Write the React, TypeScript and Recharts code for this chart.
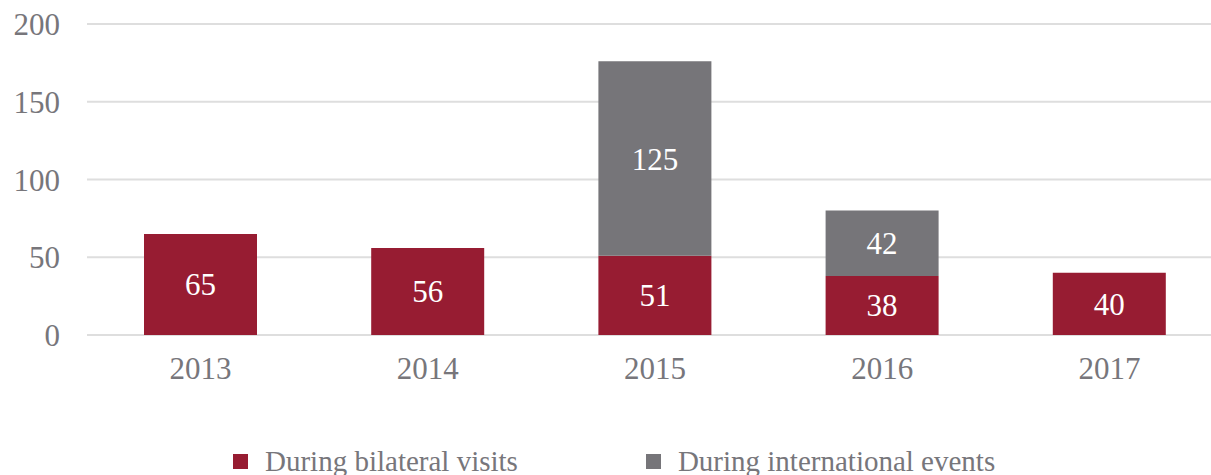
import React from 'react';
import { BarChart, Bar, XAxis, YAxis, CartesianGrid, LabelList, Legend } from 'recharts';

const years = ['2013', '2014', '2015', '2016', '2017'];
const bilateralVisits = [65, 56, 51, 38, 40];
const internationalEvents = [null, null, 125, 42, null];
const yTicks = [0, 50, 100, 150, 200];

const RED = '#971c32';
const GREY = '#767579';
const TEXT = '#77767b';
const FONT = '"Liberation Serif", "Times New Roman", serif';

const data = years.map((year, i) => ({
    year,
    bilateral: bilateralVisits[i],
    international: internationalEvents[i],
}));

const legendItems = [
    { name: 'During bilateral visits', color: RED },
    { name: 'During international events', color: GREY },
];

function ChartLegend() {
    return (
        <div style={{ display: 'flex', marginLeft: 233, marginTop: -4, gap: 128, fontFamily: FONT, fontSize: 29, color: TEXT, lineHeight: '36px' }}>
            {legendItems.map((item) => (
                <div key={item.name} style={{ display: 'flex', alignItems: 'center' }}>
                    <span style={{ width: 15, height: 15, background: item.color, marginRight: 17, display: 'inline-block' }} />
                    {item.name}
                </div>
            ))}
        </div>
    );
}

export default function App() {
    return (
        <div style={{ position: 'absolute', left: 0, top: 0, width: 1211, height: 475, overflow: 'hidden', background: '#fff' }}>
            <BarChart
                width={1226}
                height={475}
                data={data}
                margin={{ top: 24, right: 3, left: 0, bottom: 0 }}
                barSize={113}
            >
                <CartesianGrid vertical={false} stroke="#dedede" strokeWidth={2} />
                <XAxis
                    dataKey="year"
                    axisLine={false}
                    tickLine={false}
                    tickSize={0}
                    tickMargin={22}
                    height={112}
                    tick={{ fill: TEXT, fontSize: 31, fontFamily: FONT }}
                />
                <YAxis
                    domain={[0, 200]}
                    ticks={yTicks}
                    axisLine={false}
                    tickLine={false}
                    tickSize={0}
                    tickMargin={27}
                    width={87}
                    tick={{ fill: TEXT, fontSize: 31, fontFamily: FONT }}
                />
                <Legend verticalAlign="bottom" content={() => <ChartLegend />} wrapperStyle={{ height: 28 }} />
                <Bar dataKey="bilateral" stackId="a" fill={RED} isAnimationActive={false}>
                    <LabelList dataKey="bilateral" position="center" fill="#fff" fontSize={31} fontFamily={FONT} />
                </Bar>
                <Bar dataKey="international" stackId="a" fill={GREY} isAnimationActive={false}>
                    <LabelList dataKey="international" position="center" fill="#fff" fontSize={31} fontFamily={FONT} />
                </Bar>
            </BarChart>
        </div>
    );
}
